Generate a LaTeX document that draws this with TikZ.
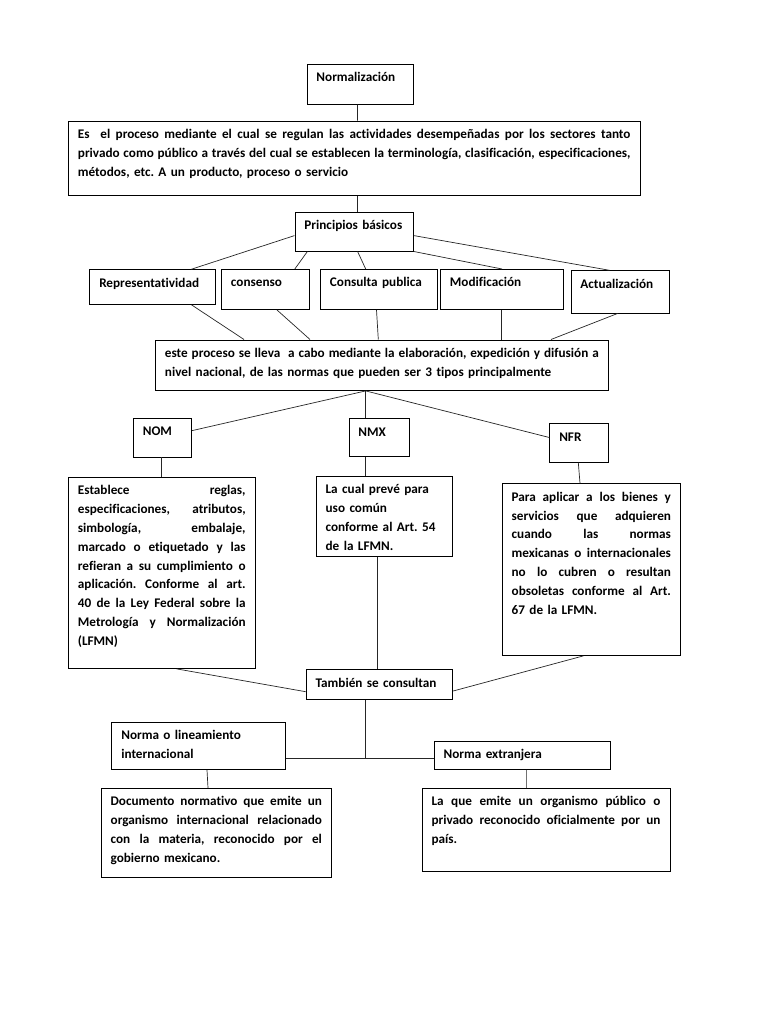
\documentclass[tikz,border=0pt]{standalone}
\usepackage{fontspec}
\setmainfont{Carlito}[Ligatures=NoCommon]
\usetikzlibrary{calc}
\newcommand\jl[1]{\leavevmode\hbox to\hsize{\spaceskip=0.226em plus 1fil minus 0.1em\relax\xspaceskip=\spaceskip #1}}
\tikzset{
  box/.style={draw, line width=0.9pt, anchor=north west, inner xsep=9.5pt, inner ysep=0pt,
    text height=17.5pt, align=left, font=\bfseries\fontsize{13.2}{18.8}\selectfont\frenchspacing},
  conn/.style={line width=0.7pt, draw=black!85}
}
\begin{document}
\begin{tikzpicture}[x=1pt,y=-1pt]
\useasboundingbox[fill=white] (0,0) rectangle (768,1024);
\node[box, text width=87.5pt, text depth=22.5pt] (norm) at (306.5,63.75) {Normalización};
\node[box, text width=552.5pt, text depth=56.5pt] (main) at (68,121)
  {\jl{Es~ el proceso mediante el cual se regulan las actividades desempeñadas por los sectores tanto}\\
   \jl{privado como público a través del cual se establecen la terminología, clasificación, especificaciones,}\\
   métodos, etc. A un producto, proceso o servicio};
\node[box, text width=99.5pt, text depth=21.1pt] (prin) at (294.5,212) {Principios básicos};
\node[box, text width=107pt, text depth=17.2pt] (rep) at (89.3,269.3) {Representatividad};
\node[box, text width=68.8pt, text depth=22.5pt] (cons) at (221,269) {consenso};
\node[box, text width=98pt, text depth=22.5pt] (cpub) at (320,269) {Consulta publica};
\node[box, text width=103.5pt, text depth=22.2pt] (mod) at (440,269) {Modificación};
\node[box, text width=79.8pt, text depth=24.8pt] (act) at (570.5,270.3) {Actualización};
\node[box, text width=433.8pt, text depth=33pt] (este) at (155,339.5)
  {\jl{este proceso se lleva~ a cabo mediante la elaboración, expedición y difusión a}\\
   nivel nacional, de las normas que pueden ser 3 tipos principalmente};
\node[box, text width=39.4pt, text depth=21pt] (nom) at (132.9,418) {NOM};
\node[box, text width=41.8pt, text depth=20.1pt] (nmx) at (348.5,418.3) {NMX};
\node[box, text width=39.7pt, text depth=20.9pt] (nfr) at (549.3,423.3) {NFR};
\node[box, text width=167.7pt, text depth=173.5pt] (est) at (68,477)
  {\jl{Establece reglas,}\\
   \jl{especificaciones, atributos,}\\
   \jl{simbología, embalaje,}\\
   \jl{marcado o etiquetado y las}\\
   \jl{refieran a su cumplimiento o}\\
   \jl{aplicación. Conforme al art.}\\
   \jl{40 de la Ley Federal sobre la}\\
   \jl{Metrología y Normalización}\\
   (LFMN)};
\node[box, text width=117.6pt, text depth=62.2pt] (lcp) at (315.7,476)
  {La cual prevé para\\ uso común\\ conforme al Art. 54\\ de la LFMN.};
\node[box, text width=159.3pt, text depth=154.2pt] (para) at (501.7,483.3)
  {\jl{Para aplicar a los bienes y}\\
   \jl{servicios que adquieren}\\
   \jl{cuando las normas}\\
   \jl{mexicanas o internacionales}\\
   \jl{no lo cubren o resultan}\\
   \jl{obsoletas conforme al Art.}\\
   67 de la LFMN.};
\node[box, text width=127.6pt, text depth=12.5pt] (tamb) at (305.7,669.3) {También se consultan};
\node[box, text width=154.2pt, text depth=29.5pt] (nli) at (111.4,722) {Norma o lineamiento\\ internacional};
\node[box, text width=157.3pt, text depth=10.9pt] (next) at (433.7,740.6) {Norma extranjera};
\node[box, text width=211.3pt, text depth=71.5pt] (doc) at (100.7,788)
  {\jl{Documento normativo que emite un}\\
   \jl{organismo internacional relacionado}\\
   \jl{con la materia, reconocido por el}\\
   gobierno mexicano.};
\node[box, text width=228.9pt, text depth=65.1pt] (lque) at (421.6,788)
  {\jl{La que emite un organismo público o}\\
   \jl{privado reconocido oficialmente por un}\\
   país.};
\coordinate (j) at (365,758.3);
% connectors
\draw[conn] ([xshift=51pt]norm.south west) -- ([xshift=289.6pt]main.north west);
\draw[conn] ([xshift=289.6pt]main.south west) -- ([xshift=63.1pt]prin.north west);
\draw[conn] ([yshift=-23.6pt]prin.north west) -- ([xshift=101.9pt]rep.north west);
\draw[conn] ([xshift=12.9pt]prin.south west) -- ([xshift=73.8pt]cons.north west);
\draw[conn] ([xshift=63.1pt]prin.south west) -- ([xshift=45.7pt]cpub.north west);
\draw[conn] (prin.south east) -- ([xshift=62pt]mod.north west);
\draw[conn] ([yshift=-23.6pt]prin.north east) -- ([xshift=39pt]act.north west);
\draw[conn] ([xshift=102.3pt]rep.south west) -- ([xshift=89pt]este.north west);
\draw[conn] ([xshift=55.9pt]cons.south west) -- ([xshift=155pt]este.north west);
\draw[conn] ([xshift=56.5pt]cpub.south west) -- ([xshift=223.3pt]este.north west);
\draw[conn] ([xshift=61pt]mod.south west) -- ([xshift=346pt]este.north west);
\draw[conn] ([xshift=47pt]act.south west) -- ([xshift=396pt]este.north west);
\draw[conn] ([xshift=210.7pt]este.south west) -- ([yshift=-12.6pt]nom.north east);
\draw[conn] ([xshift=210.7pt]este.south west) -- ([xshift=17.2pt]nmx.north west);
\draw[conn] ([xshift=210.7pt]este.south west) -- ([yshift=-14.2pt]nfr.north west);
\draw[conn] ([xshift=28.1pt]nom.south west) -- ([xshift=93pt]est.north west);
\draw[conn] ([xshift=17.2pt]nmx.south west) -- ([xshift=50pt]lcp.north west);
\draw[conn] ([xshift=29pt]nfr.south west) -- ([xshift=78.3pt]para.north west);
\draw[conn] ([xshift=61.6pt]lcp.south west) -- ([xshift=71.6pt]tamb.north west);
\draw[conn] ([xshift=108.8pt]est.south west) -- ([yshift=-22.4pt]tamb.north west);
\draw[conn] ([xshift=81.6pt]para.south west) -- ([yshift=-21.7pt]tamb.north east);
\draw[conn] ([xshift=59.3pt]tamb.south west) -- (j);
\draw[conn] ([yshift=-36.3pt]nli.north east) -- (j) -- ([yshift=-17.7pt]next.north west);
\draw[conn] ([xshift=95.6pt]nli.south west) -- ([xshift=107.3pt]doc.north west);
\draw[conn] ([xshift=92.9pt]next.south west) -- ([xshift=105pt]lque.north west);
\end{tikzpicture}
\end{document}
